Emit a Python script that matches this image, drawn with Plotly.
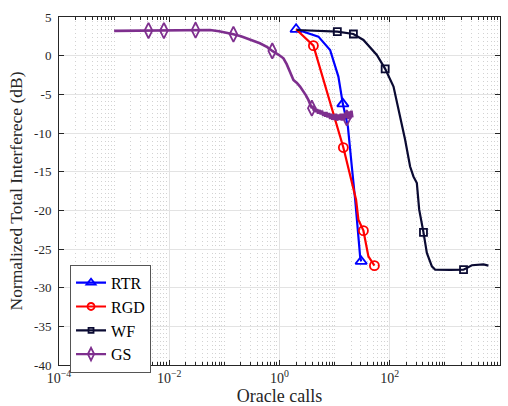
import plotly.graph_objects as go

# ---------------- data ----------------
rtr_x = [2.0, 5.08, 8.28, 11.7, 14.1, 17.4, 20.5, 23.6, 29.0, 30.3]
rtr_y = [3.41, 2.46, 0.74, -2.71, -6.23, -9.17, -14.33, -18.63, -25.95, -26.6]
rtr_mk = [0, 4, 9]

rgd_x = [2.0, 4.12, 14.4, 24.5, 27.0, 33.3, 41.0, 52.7]
rgd_y = [3.41, 1.29, -11.88, -18.63, -21.2, -22.63, -25.95, -27.15]
rgd_mk = [1, 2, 5, 7]

wf_x = [2.06, 11.2, 21.9, 33.3, 58.3, 82.6, 117, 154, 190, 234, 269, 310, 332, 342,
        409, 471, 581, 667, 1250, 2180, 3090, 5010, 6170]
wf_y = [3.32, 3.10, 2.80, 2.03, 0.09, -1.71, -4.0, -7.87, -10.88, -14.33, -15.62, -16.47,
        -18.63, -19.92, -22.85, -25.5, -27.24, -27.67, -27.7, -27.67, -27.1, -27.0, -27.15]
wf_mk = [1, 2, 5, 14, 19]

gs_x = [0.001, 0.002, 0.0042, 0.008, 0.015, 0.03, 0.055, 0.08, 0.11, 0.146, 0.2, 0.29,
        0.44, 0.6, 0.74, 0.95, 1.18, 1.35, 1.55, 1.79, 1.9, 2.05, 2.36, 2.7, 3.0, 3.34,
        3.6, 3.86, 4.0, 4.2, 4.4, 4.6, 4.8, 5.0, 5.3, 5.6, 5.9, 6.2, 6.5, 6.8, 7.1, 7.5,
        7.9, 8.3, 8.7, 9.1, 9.6, 10.1, 10.6, 11.1, 11.7, 12.3, 12.9, 13.5, 14.2, 14.9,
        15.6, 16.6, 17.0, 17.8, 18.6, 19.4, 20.2, 21.0]
gs_y = [3.2, 3.22, 3.25, 3.24, 3.27, 3.3, 3.32, 3.15, 3.0, 2.77, 2.5, 2.12,
        1.6, 1.1, 0.61, 0.15, -0.34, -1.1, -2.1, -3.14, -3.3, -3.5, -4.0, -4.6, -5.1, -5.72,
        -6.3, -6.79, -6.5, -7.1, -6.7, -7.3, -6.9, -7.5, -7.0, -7.6, -7.1, -7.8, -7.3, -7.9,
        -7.3, -8.0, -7.4, -8.2, -7.5, -8.3, -7.6, -8.3, -7.5, -8.4, -7.6, -8.3, -7.5, -8.4,
        -7.5, -8.3, -7.4, -8.05, -7.3, -8.2, -7.2, -8.1, -7.1, -8.0]
gs_mk = [2, 3, 5, 9, 14, 27, 57]

x_tickvals = [1e-4, 1e-2, 1e0, 1e2, 1e4]
x_ticktext = ["10<sup>\u22124</sup>", "10<sup>\u22122</sup>", "10<sup>0</sup>",
              "10<sup>2</sup>", "10<sup>4</sup>"]
y_tickvals = [5, 0, -5, -10, -15, -20, -25, -30, -35, -40]
y_ticktext = ["5", "0", "-5", "-10", "-15", "-20", "-25", "-30", "-35", "-40"]

series = [
    ("RTR", rtr_x, rtr_y, rtr_mk, "#0000ff", "triangle-up-open", 10, 2.2),
    ("RGD", rgd_x, rgd_y, rgd_mk, "#ff0000", "circle-open", 9, 2.2),
    ("WF", wf_x, wf_y, wf_mk, "#0b0b33", "square-open", 7, 2.2),
    ("GS", gs_x, gs_y, gs_mk, "#7e2f8e", "diamond-tall-open", 11, 2.6),
]

FONT = "Liberation Serif"
AX = "#262626"

fig = go.Figure()
for name, xs, ys, mk, color, sym, size, lw in series:
    fig.add_trace(go.Scatter(x=xs, y=ys, mode="lines", line=dict(color=color, width=lw),
                             showlegend=False, hoverinfo="skip"))
    fig.add_trace(go.Scatter(x=[xs[i] for i in mk], y=[ys[i] for i in mk], mode="markers",
                             marker=dict(symbol=sym, size=size, color=color,
                                         line=dict(width=1.8, color=color)),
                             showlegend=False, hoverinfo="skip"))
for name, xs, ys, mk, color, sym, size, lw in series:
    fig.add_trace(go.Scatter(x=[None], y=[None], mode="lines+markers", name=name,
                             line=dict(color=color, width=2.2),
                             marker=dict(symbol=sym, size=size - 2, color=color,
                                         line=dict(width=1.8, color=color))))

minor_vals = [m * 10.0 ** k for k in range(-4, 4) for m in range(1, 10) if not (m == 1 and k % 2 == 0)]

fig.update_layout(
    width=508, height=406,
    margin=dict(l=59, r=8, t=17, b=41),
    paper_bgcolor="white", plot_bgcolor="white",
    font=dict(family=FONT, color=AX, size=12),
    showlegend=True,
    legend=dict(x=0.025, y=0.288, xanchor="left", yanchor="top",
                bgcolor="white", bordercolor="#555555", borderwidth=1,
                font=dict(family=FONT, size=16, color="#000000"),
                tracegroupgap=0, itemwidth=30),
)
fig.update_xaxes(
    type="log", range=[-4, 4], automargin=False,
    tickmode="array", tickvals=x_tickvals, ticktext=x_ticktext,
    ticks="inside", ticklen=5, tickcolor=AX, tickwidth=1,
    showgrid=True, gridcolor="#e3e3e3", gridwidth=1.3,
    showline=True, linecolor=AX, linewidth=1, mirror="ticks",
    zeroline=False,
    minor=dict(tickmode="array", tickvals=minor_vals, ticks="inside", ticklen=3,
               tickcolor=AX, showgrid=True, gridcolor="#d2d2d2", griddash="1px,3px",
               gridwidth=1),
    tickfont=dict(family=FONT, size=14, color=AX),
    title=dict(text="Oracle calls", font=dict(family=FONT, size=18, color=AX), standoff=6),
)
fig.update_yaxes(
    range=[-40, 5], automargin=False,
    tickmode="array", tickvals=y_tickvals, ticktext=y_ticktext,
    ticks="inside", ticklen=5, tickcolor=AX, tickwidth=1,
    showgrid=True, gridcolor="#e3e3e3", gridwidth=1.3,
    showline=True, linecolor=AX, linewidth=1, mirror="ticks",
    zeroline=False, ticklabelstandoff=4,
    tickfont=dict(family=FONT, size=13, color=AX),
    title=dict(text="Normalized Total Interferece (dB)",
               font=dict(family=FONT, size=17.5, color=AX), standoff=6),
)

fig.write_html("out.html")
